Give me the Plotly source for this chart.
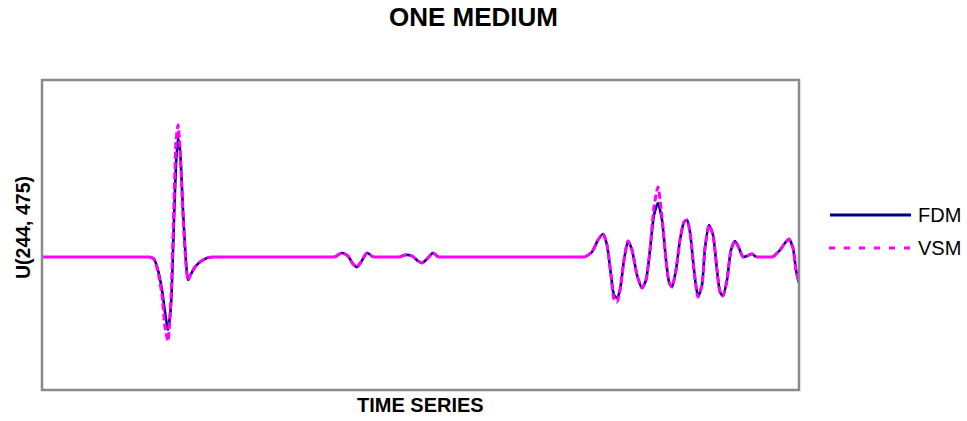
import numpy as np
import plotly.graph_objects as go

# Time samples and displacement at receiver (244, 475)
time = [0, 108, 112, 116, 120, 123, 126, 129, 132, 134, 136, 138, 141, 144, 146, 149,
        153, 158, 165, 171, 293, 300, 306, 311, 315, 319, 325, 331, 358, 363, 370, 376,
        380, 385, 391, 396, 543, 550, 556, 561, 565, 569, 572, 575, 578, 582, 586, 590,
        595, 600, 604, 608, 612, 616, 620, 624, 627, 630, 634, 638, 642, 645, 648, 652,
        656, 660, 663, 667, 671, 675, 678, 681, 685, 689, 693, 697, 701, 705, 710, 714,
        731, 738, 743, 747, 751, 754, 757]

fdm = [0, 0, -0.02, -0.13, -0.33, -0.55, -0.73, -0.48, 0.37, 0.92, 1.19, 1.07, 0.47, -0.05, -0.23, -0.17,
       -0.10, -0.05, -0.01, 0, 0, 0.04, 0.01, -0.07, -0.10, -0.05, 0.04, 0, 0, 0.02, 0.01, -0.04,
       -0.06, -0.02, 0.04, 0, 0, 0.05, 0.17, 0.23, 0.12, -0.18, -0.38, -0.41, -0.33, -0.03, 0.16, 0.07,
       -0.18, -0.31, -0.23, 0.07, 0.42, 0.54, 0.37, -0.03, -0.25, -0.30, -0.13, 0.17, 0.35, 0.37, 0.25, -0.13,
       -0.40, -0.28, 0.09, 0.32, 0.22, -0.13, -0.35, -0.39, -0.23, 0.07, 0.16, 0.09, 0, 0.01, 0.03, 0,
       0, 0.07, 0.14, 0.18, 0.09, -0.13, -0.26]

vsm = [0, 0, -0.02, -0.15, -0.38, -0.70, -0.84, -0.40, 0.55, 1.15, 1.32, 1.10, 0.40, -0.07, -0.23, -0.17,
       -0.10, -0.05, -0.01, 0, 0, 0.04, 0.01, -0.07, -0.10, -0.05, 0.04, 0, 0, 0.02, 0.01, -0.04,
       -0.06, -0.02, 0.04, 0, 0, 0.05, 0.17, 0.23, 0.12, -0.18, -0.42, -0.45, -0.33, -0.03, 0.16, 0.07,
       -0.18, -0.31, -0.23, 0.07, 0.50, 0.70, 0.40, -0.03, -0.25, -0.30, -0.13, 0.17, 0.35, 0.37, 0.25, -0.13,
       -0.40, -0.28, 0.09, 0.32, 0.22, -0.13, -0.35, -0.39, -0.23, 0.07, 0.16, 0.09, 0, 0.01, 0.03, 0,
       0, 0.07, 0.14, 0.18, 0.09, -0.13, -0.26]

t = np.array(time, dtype=float)
f = np.array(fdm, dtype=float)
v = np.array(vsm, dtype=float)

# Quiet stretches (both records at rest) get one solid straight line;
# the wave stretches are broken there so the smoothed curves stay separate.
quiet = (f == 0) & (v == 0)

wt, wf, wv = [], [], []
for i in range(len(t)):
    wt.append(t[i]); wf.append(f[i]); wv.append(v[i])
    if i < len(t) - 1 and quiet[i] and quiet[i + 1]:
        wt.append((t[i] + t[i + 1]) / 2); wf.append(np.nan); wv.append(np.nan)

NAVY = "#000080"
MAGENTA = "#FF00FF"
FONT = "Liberation Sans, Arial, sans-serif"

fig = go.Figure()
fig.add_trace(go.Scatter(x=wt, y=wf, mode="lines", name="FDM",
                         line=dict(color=NAVY, width=2.6, shape="spline", smoothing=0.6),
                         connectgaps=False, showlegend=False))
fig.add_trace(go.Scatter(x=wt, y=wv, mode="lines", name="VSM",
                         line=dict(color=MAGENTA, width=3, dash="7px,3px",
                                   shape="spline", smoothing=0.6),
                         connectgaps=False, showlegend=False))
fig.add_trace(go.Scatter(x=t, y=np.where(quiet, v, np.nan), mode="lines",
                         line=dict(color=MAGENTA, width=3), connectgaps=False,
                         showlegend=False, hoverinfo="skip"))

W, H = 967, 421
L, R, T, B = 42, 799, 80, 390


def px(x):
    return (x - L) / (R - L)


def py(y):
    return (B - y) / (B - T)


shapes = [
    dict(type="rect", xref="paper", yref="paper", x0=0, x1=1, y0=0, y1=1,
         line=dict(color="#8a8a8a", width=2.5)),
    # legend keys
    dict(type="line", xref="paper", yref="paper", x0=px(830), x1=px(911), y0=py(215), y1=py(215),
         line=dict(color=NAVY, width=3)),
    dict(type="line", xref="paper", yref="paper", x0=px(829), x1=px(912), y0=py(248), y1=py(248),
         line=dict(color=MAGENTA, width=3, dash="6px,9px")),
]

annotations = [
    dict(text="<b>ONE MEDIUM</b>", xref="paper", yref="paper", x=px(473), y=py(17),
         xanchor="center", yanchor="middle", showarrow=False, font=dict(size=26, color="#000", family=FONT)),
    dict(text="<b>TIME SERIES</b>", xref="paper", yref="paper", x=px(420), y=py(405),
         xanchor="center", yanchor="middle", showarrow=False, font=dict(size=20, color="#000", family=FONT)),
    dict(text="<b>U(244, 475)</b>", xref="paper", yref="paper", x=px(23), y=py(228),
         xanchor="center", yanchor="middle", textangle=-90, showarrow=False,
         font=dict(size=19.5, color="#000", family=FONT)),
    dict(text="FDM", xref="paper", yref="paper", x=px(916), y=py(215),
         xanchor="left", yanchor="middle", showarrow=False, font=dict(size=20, color="#000", family=FONT)),
    dict(text="VSM", xref="paper", yref="paper", x=px(916), y=py(248),
         xanchor="left", yanchor="middle", showarrow=False, font=dict(size=20, color="#000", family=FONT)),
]

fig.update_layout(
    width=W, height=H,
    margin=dict(l=L, r=W - R, t=T, b=H - B, pad=0),
    paper_bgcolor="white", plot_bgcolor="white",
    shapes=shapes, annotations=annotations,
    xaxis=dict(range=[0, 757], visible=False, showgrid=False, zeroline=False),
    yaxis=dict(range=[-1.33, 1.77], visible=False, showgrid=False, zeroline=False),
    showlegend=False,
)

fig.write_html("out.html")
